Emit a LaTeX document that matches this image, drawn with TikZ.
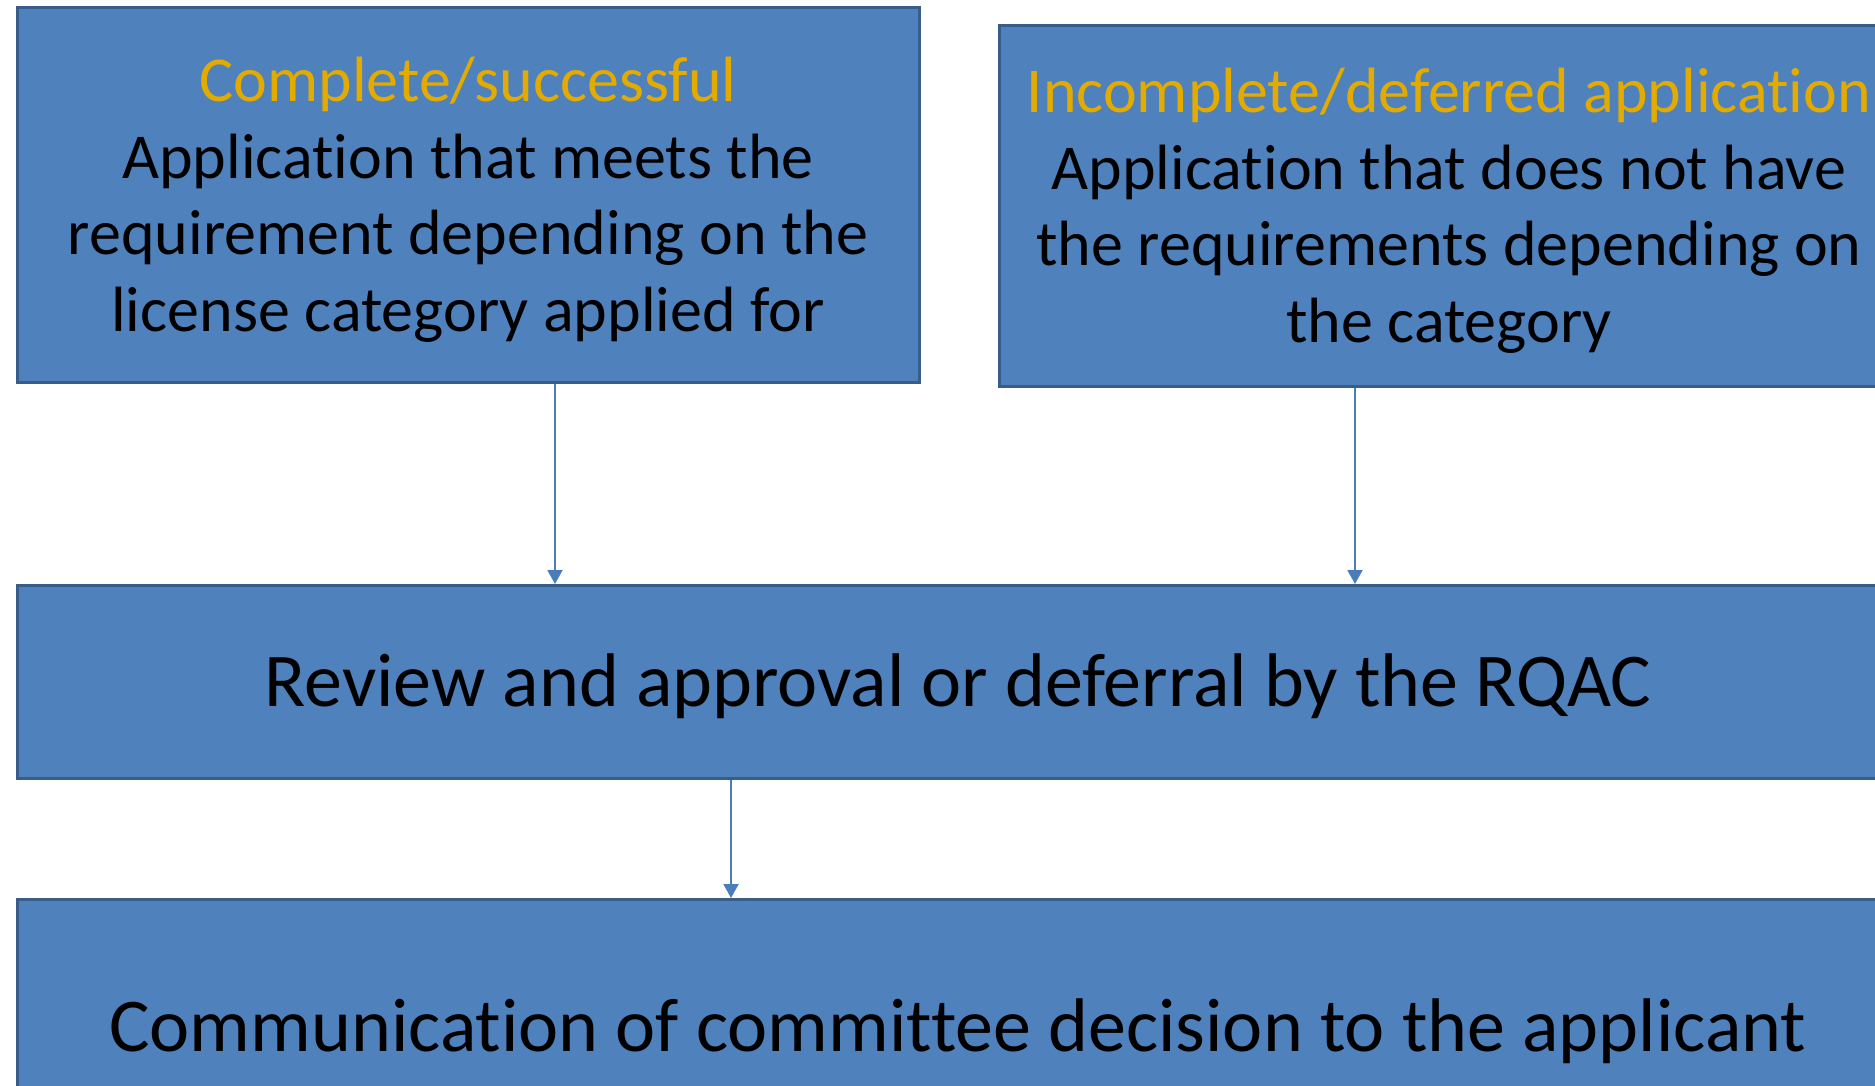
\documentclass[tikz,border=0pt]{standalone}
\usepackage{fontspec}
\setmainfont{Carlito}[Ligatures={NoCommon,NoRequired,NoContextual}]
\usetikzlibrary{arrows.meta}
\definecolor{boxfill}{RGB}{79,129,189}
\definecolor{boxline}{RGB}{56,93,138}
\definecolor{arrowcol}{RGB}{74,126,187}
\definecolor{titlecol}{RGB}{227,170,0}
\newcommand\dropmulti[1]{\raisebox{-6pt}[\height][\depth]{\begin{tabular}{@{}c@{}}#1\end{tabular}}}
\newcommand\dropsingle[1]{\raisebox{-4pt}[\height][\depth]{#1}}
\tikzset{
  flowbox/.style={draw=boxline, line width=3pt, fill=boxfill, anchor=north west, inner sep=0pt, align=center, text=black},
  flowarrow/.style={draw=arrowcol, line width=2pt, -{Triangle[width=15pt,length=14pt]}},
  smalltext/.style={font=\fontsize{64}{76.5}\selectfont},
  bigtext/.style={font=\fontsize{76}{92}\selectfont},
}
\begin{document}
\begin{tikzpicture}[x=1pt,y=-1pt]
\useasboundingbox (0,0) rectangle (1875,1085);
\clip (0,0) rectangle (1875,1085);
\fill[white] (0,0) rectangle (1875,1085);
\node[flowbox, smalltext, minimum width=902pt, minimum height=375pt] (b1) at (15.5,6)
  {\dropmulti{\textcolor{titlecol}{Complete/successful}\\Application that meets the\\requirement depending on the\\license category applied for}};
\node[flowbox, smalltext, minimum width=900pt, minimum height=361pt] (b2) at (997.5,24)
  {\dropmulti{\textcolor{titlecol}{Incomplete/deferred application}\\Application that does not have\\the requirements depending on\\the category}};
\node[flowbox, bigtext, minimum width=1882pt, minimum height=193pt] (b3) at (15.5,584)
  {\dropsingle{Review and approval or deferral by the RQAC}};
\node[flowbox, bigtext, minimum width=1882pt, minimum height=256pt] (b4) at (15.5,898)
  {\dropsingle{Communication of committee decision to the applicant}};
\draw[flowarrow] (b1.south -| 555,0) -- (b3.north -| 555,0);
\draw[flowarrow] (b2.south -| 1355,0) -- (b3.north -| 1355,0);
\draw[flowarrow] (b3.south -| 731,0) -- (b4.north -| 731,0);
\end{tikzpicture}
\end{document}
